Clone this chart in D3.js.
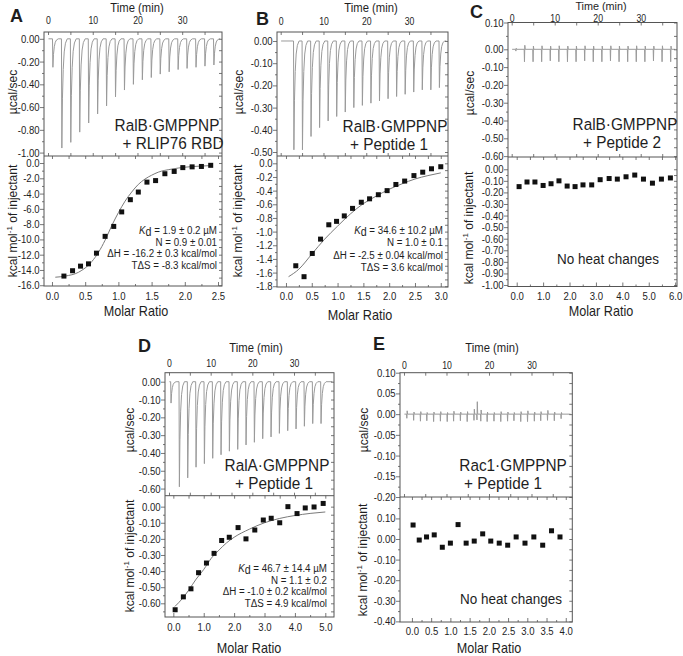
<!DOCTYPE html>
<html><head><meta charset="utf-8">
<script src="https://cdn.jsdelivr.net/npm/d3@7"></script>
<style>
body{margin:0;background:#fff}
text{font-family:"Liberation Sans",Arial,Helvetica,sans-serif;fill:#1e1e1e}
</style>
</head><body><script>
// ================= DATA =================
const timeTicks=[0,10,20,30];
const timeMinor=[5,15,25,35];

// ---- Panel A : RalB·GMPPNP + RLIP76 RBD ----
const aInjTime=[1,3,5,7,9,11,13,15,17,19,21,23,25,27,29,31,33,35,37];
const aInjPeak=[-0.25,-0.96,-0.91,-0.82,-0.74,-0.66,-0.59,-0.51,-0.45,-0.40,-0.36,-0.34,-0.31,-0.29,-0.27,-0.26,-0.25,-0.24,-0.23];
const aRatio=[0.18,0.31,0.43,0.55,0.67,0.80,0.93,1.05,1.18,1.30,1.43,1.56,1.70,1.84,1.97,2.11,2.25,2.39];
const aHeat=[-14.8,-14.1,-13.5,-13.2,-11.8,-9.6,-8.3,-6.4,-4.8,-3.8,-2.5,-2.3,-1.4,-1.1,-0.6,-0.5,-0.45,-0.3];
const aFitRatio=[0.05,0.2,0.4,0.6,0.7,0.8,0.9,1.0,1.1,1.2,1.3,1.4,1.5,1.6,1.8,2.0,2.2,2.4];
const aFitHeat=[-14.95,-14.8,-14.3,-12.9,-11.7,-10.1,-8.2,-6.5,-5.0,-3.8,-2.8,-2.1,-1.6,-1.2,-0.8,-0.55,-0.42,-0.33];
const aTopTicks=[0,-0.2,-0.4,-0.6,-0.8,-1.0];
const aTopMinor=[-0.1,-0.3,-0.5,-0.7,-0.9];
const aBotTicks=[0,-2,-4,-6,-8,-10,-12,-14,-16];
const aBotMinor=[-1,-3,-5,-7,-9,-11,-13,-15];
const aRatioTicks=[0,0.5,1.0,1.5,2.0,2.5];
const aRatioMinor=[0.25,0.75,1.25,1.75,2.25];
const aName=["RalB·GMPPNP","+ RLIP76 RBD"];
const aStats=["= 1.9 ± 0.2 µM","N = 0.9 ± 0.01","ΔH = -16.2 ± 0.3 kcal/mol","TΔS = -8.3 kcal/mol"];

// ---- Panel B : RalB·GMPPNP + Peptide 1 ----
const bInjTime=[3,5,7,9,11,13,15,17,19,21,23,25,27,29,31,33,35,37];
const bInjPeak=[-0.49,-0.49,-0.43,-0.39,-0.36,-0.34,-0.32,-0.30,-0.29,-0.28,-0.27,-0.26,-0.25,-0.24,-0.23,-0.22,-0.22,-0.21];
const bRatio=[0.19,0.35,0.51,0.67,0.83,0.98,1.13,1.29,1.46,1.62,1.79,1.96,2.13,2.30,2.48,2.65,2.82,3.00];
const bHeat=[-1.50,-1.66,-1.32,-1.11,-0.90,-0.85,-0.77,-0.66,-0.57,-0.52,-0.46,-0.40,-0.31,-0.26,-0.18,-0.13,-0.08,-0.05];
const bFitRatio=[0.05,0.25,0.5,0.75,1.0,1.25,1.5,1.75,2.0,2.25,2.5,2.75,3.0];
const bFitHeat=[-1.66,-1.55,-1.33,-1.11,-0.92,-0.74,-0.59,-0.48,-0.38,-0.30,-0.23,-0.18,-0.14];
const bTopTicks=[0,-0.1,-0.2,-0.3,-0.4,-0.5];
const bTopMinor=[-0.05,-0.15,-0.25,-0.35,-0.45];
const bBotTicks=[0,-0.2,-0.4,-0.6,-0.8,-1.0,-1.2,-1.4,-1.6,-1.8];
const bBotMinor=[-0.1,-0.3,-0.5,-0.7,-0.9,-1.1,-1.3,-1.5,-1.7];
const bRatioTicks=[0,0.5,1.0,1.5,2.0,2.5,3.0];
const bRatioMinor=[0.25,0.75,1.25,1.75,2.25,2.75];
const bName=["RalB·GMPPNP","+ Peptide 1"];
const bStats=["= 34.6 ± 10.2 µM","N = 1.0 ± 0.1","ΔH = -2.5 ± 0.04 kcal/mol","TΔS = 3.6 kcal/mol"];

// ---- Panel C : RalB·GMPPNP + Peptide 2 ----
const cInjTime=[0.9,2.9,4.9,6.9,8.9,10.9,12.9,14.9,16.9,18.9,20.9,22.9,24.9,26.9,28.9,30.9,32.9,34.9,36.9];
const cInjPeak=[-0.01,-0.07,-0.07,-0.07,-0.065,-0.07,-0.07,-0.07,-0.065,-0.07,-0.07,-0.065,-0.07,-0.07,-0.07,-0.07,-0.065,-0.07,-0.07];
const cInjUp=[0.004,0.015,0.012,0.013,0.012,0.013,0.012,0.012,0.013,0.012,0.012,0.013,0.012,0.012,0.013,0.012,0.012,0.013,0.012];
const cRatio=[0.09,0.39,0.69,1.00,1.30,1.60,1.91,2.21,2.51,2.84,3.16,3.50,3.81,4.14,4.47,4.80,5.14,5.48,5.82];
const cHeat=[-0.15,-0.11,-0.11,-0.14,-0.125,-0.10,-0.145,-0.15,-0.135,-0.135,-0.09,-0.08,-0.085,-0.065,-0.05,-0.085,-0.12,-0.085,-0.075];
const cTopTicks=[0.10,0,-0.1,-0.2,-0.3,-0.4,-0.5,-0.6];
const cTopMinor=[0.05,-0.05,-0.15,-0.25,-0.35,-0.45,-0.55];
const cBotTicks=[0,-0.1,-0.2,-0.3,-0.4,-0.5,-0.6,-0.7,-0.8,-0.9,-1.0];
const cBotMinor=[-0.05,-0.15,-0.25,-0.35,-0.45,-0.55,-0.65,-0.75,-0.85,-0.95];
const cRatioTicks=[0,1,2,3,4,5,6];
const cRatioMinor=[0.5,1.5,2.5,3.5,4.5,5.5];
const cName=["RalB·GMPPNP","+ Peptide 2"];

// ---- Panel D : RalA·GMPPNP + Peptide 1 ----
const dInjTime=[0.4,2.4,4.4,6.4,8.4,10.4,12.4,14.4,16.4,18.4,20.4,22.4,24.4,26.4,28.4,30.4,32.4,34.4,36.4];
const dInjPeak=[-0.12,-0.59,-0.54,-0.48,-0.46,-0.43,-0.41,-0.39,-0.38,-0.355,-0.34,-0.32,-0.31,-0.29,-0.275,-0.265,-0.25,-0.235,-0.235];
const dRatio=[0.06,0.33,0.58,0.83,1.09,1.34,1.59,1.84,2.13,2.39,2.68,2.96,3.22,3.50,3.77,4.07,4.34,4.63,4.93];
const dHeat=[-0.64,-0.56,-0.51,-0.41,-0.35,-0.29,-0.21,-0.19,-0.13,-0.20,-0.145,-0.083,-0.072,-0.10,0.00,-0.043,-0.008,-0.002,0.02];
const dFitRatio=[0.05,0.3,0.5,0.75,1.0,1.25,1.5,1.75,2.0,2.5,3.0,3.5,4.0,4.5,5.0];
const dFitHeat=[-0.62,-0.57,-0.52,-0.45,-0.39,-0.32,-0.27,-0.225,-0.19,-0.14,-0.10,-0.073,-0.055,-0.042,-0.033];
const dTopTicks=[0,-0.1,-0.2,-0.3,-0.4,-0.5,-0.6];
const dTopMinor=[-0.05,-0.15,-0.25,-0.35,-0.45,-0.55];
const dBotTicks=[0,-0.1,-0.2,-0.3,-0.4,-0.5,-0.6];
const dBotMinor=[-0.05,-0.15,-0.25,-0.35,-0.45,-0.55,-0.65];
const dRatioTicks=[0,1,2,3,4,5];
const dRatioMinor=[0.5,1.5,2.5,3.5,4.5];
const dName=["RalA·GMPPNP","+ Peptide 1"];
const dStats=["= 46.7 ± 14.4 µM","N = 1.1 ± 0.2","ΔH = -1.0 ± 0.2 kcal/mol","TΔS = 4.9 kcal/mol"];

// ---- Panel E : Rac1·GMPPNP + Peptide 1 ----
const eInjTime=[0.6,2.2,3.8,5.3,6.9,8.5,10.1,11.6,13.2,14.8,16.4,17.1,18.0,19.5,21.1,22.7,24.3,25.8,27.4,29.0,30.6,32.1,33.7,35.3,36.9];
const eInjPeak=[-0.010,-0.015,-0.017,-0.016,-0.018,-0.017,-0.018,-0.017,-0.016,-0.018,-0.015,-0.014,-0.017,-0.018,-0.017,-0.018,-0.017,-0.016,-0.018,-0.018,-0.017,-0.016,-0.015,-0.016,-0.011];
const eInjUp=[0.008,0.005,0.006,0.004,0.005,0.006,0.004,0.007,0.005,0.006,0.012,0.030,0.010,0.005,0.004,0.006,0.005,0.004,0.006,0.008,0.005,0.006,0.009,0.005,0.004];
const eRatio=[0.03,0.19,0.38,0.58,0.79,1.00,1.20,1.41,1.62,1.84,2.05,2.27,2.49,2.71,2.94,3.17,3.40,3.63,3.85];
const eHeat=[0.068,-0.005,0.01,0.02,-0.04,-0.02,0.07,-0.02,-0.01,0.025,-0.01,-0.02,-0.03,0.01,-0.02,0.01,-0.03,0.04,0.01];
const eTopTicks=[0.10,0.05,0,-0.05,-0.10,-0.15,-0.20];
const eTopMinor=[0.075,0.025,-0.025,-0.075,-0.125,-0.175];
const eBotTicks=[0.1,0,-0.1,-0.2,-0.3,-0.4];
const eBotMinor=[0.15,0.05,-0.05,-0.15,-0.25,-0.35];
const eRatioTicks=[0,0.5,1.0,1.5,2.0,2.5,3.0,3.5,4.0];
const eRatioMinor=[0.25,0.75,1.25,1.75,2.25,2.75,3.25,3.75];
const eName=["Rac1·GMPPNP","+ Peptide 1"];

const noHeat="No heat changes";

// ================= DRAWING =================
const svg=d3.select('body').append('svg').attr('width',683).attr('height',656);
const fmt=n=>v=>(v<-1e-9?'-':'')+Math.abs(v).toFixed(n);
const TRACE='#9a9a9a', FRAME='#555', FIT='#7a7a7a';

// peak shape (relative time offsets / fractions of the peak depth)
const PK_T=[0,0.09,0.22,0.4,0.62,0.9,1.3];
const PK_F=[0,1,0.55,0.28,0.12,0.04,0];
function thermo(times,peaks,ups,tStart,tEnd){
  const pts=[[tStart,0]];
  times.forEach((t,i)=>{
    if(ups){ pts.push([t,0],[t+0.07,peaks[i]],[t+0.15,ups[i]],[t+0.24,0]); }
    else PK_T.forEach((dt,j)=>pts.push([t+dt,peaks[i]*PK_F[j]]));
  });
  pts.push([tEnd,0]);
  return pts;
}

function axis(g,gen,scale,vals,size,pad,f,x,y,fs){
  const a=gen(scale).tickValues(vals).tickSizeInner(size).tickSizeOuter(0).tickPadding(pad).tickFormat(f||(()=>''));
  const s=g.append('g').attr('transform',`translate(${x},${y})`).call(a);
  s.select('.domain').remove();
  s.selectAll('line').attr('stroke',FRAME).attr('stroke-width',0.8);
  s.selectAll('text').attr('font-size',fs||11).attr('fill','#222').attr('transform','scale(0.87,1)');
  return s;
}
function label(g,x,y,s,size,anchor,sx,weight){
  return g.append('text').attr('transform',`translate(${x},${y}) scale(${sx},1)`)
    .attr('font-size',size).attr('text-anchor',anchor).attr('font-weight',weight||'normal').text(s);
}

function drawPanel(p){
  const F=p.frame, g=svg.append('g');
  const tx=d3.scaleLinear().domain(p.timeDom).range([F.x0,F.x1]);
  const ty=d3.scaleLinear().domain(p.topDom).range(p.topRange||[F.ym,F.yt]);
  const rx=d3.scaleLinear().domain(p.ratioDom).range([F.x0,F.x1]);
  const ry=d3.scaleLinear().domain(p.botDom).range([F.yb,F.ym]);

  // raw thermogram
  const pts=thermo(p.injTime,p.injPeak,p.injUp,0.1,p.timeDom[1]-0.4);
  g.append('path').attr('d',d3.line().x(d=>tx(d[0])).y(d=>ty(d[1]))(pts))
    .attr('fill','none').attr('stroke',TRACE).attr('stroke-width',1);

  // fit
  if(p.fitX){
    g.append('path').attr('d',d3.line().curve(d3.curveMonotoneX).x((d,i)=>rx(p.fitX[i])).y((d,i)=>ry(p.fitY[i]))(p.fitX))
      .attr('fill','none').attr('stroke',FIT).attr('stroke-width',1);
  }
  // points
  g.selectAll(null).data(p.ratio).join('rect')
    .attr('x',d=>rx(d)-2.5).attr('y',(d,i)=>ry(p.heat[i])-2.5)
    .attr('width',5).attr('height',5).attr('fill','#111');

  // frames
  g.append('rect').attr('x',F.x0).attr('y',F.yt).attr('width',F.x1-F.x0).attr('height',F.yb-F.yt)
    .attr('fill','none').attr('stroke',FRAME).attr('stroke-width',1);
  g.append('line').attr('x1',F.x0).attr('x2',F.x1).attr('y1',F.ym).attr('y2',F.ym).attr('stroke',FRAME);

  // top plot axes
  axis(g,d3.axisLeft,ty,p.topTicks,4,1,fmt(2),F.x0,0);
  axis(g,d3.axisLeft,ty,p.topMinor,2,0,null,F.x0,0);
  axis(g,d3.axisLeft,ty,p.topTicks.concat(p.topMinor),3,0,null,F.x1,0);
  axis(g,d3.axisTop,tx,timeTicks,0,p.tPad,d=>d,0,F.yt,10);
  axis(g,d3.axisTop,tx,timeTicks.concat(timeMinor),-3,0,null,0,F.yt);
  axis(g,d3.axisTop,tx,timeTicks.concat(timeMinor),3,0,null,0,F.ym);
  // bottom plot axes
  axis(g,d3.axisLeft,ry,p.botTicks,4,1,fmt(p.botDec),F.x0,0);
  axis(g,d3.axisLeft,ry,p.botMinor,2,0,null,F.x0,0);
  axis(g,d3.axisLeft,ry,p.botTicks.concat(p.botMinor),3,0,null,F.x1,0);
  axis(g,d3.axisBottom,rx,p.ratioTicks,0,p.rPad,fmt(1),0,F.yb);
  axis(g,d3.axisBottom,rx,p.ratioTicks,-4,0,null,0,F.yb);
  axis(g,d3.axisBottom,rx,p.ratioMinor,-2,0,null,0,F.yb);
  axis(g,d3.axisBottom,rx,p.ratioTicks.concat(p.ratioMinor),3,0,null,0,F.ym);

  // titles
  label(g,p.letter[0],p.letter[1],p.id,18,'start',1,'bold');
  label(g,p.timeTitle[0],p.timeTitle[1],'Time (min)',p.timeFs||12,'middle',0.94);
  label(g,p.ratioTitle[0],p.ratioTitle[1],'Molar Ratio',14.5,'middle',0.87);
  g.append('text').attr('transform',`translate(${p.uTitle[0]},${p.uTitle[1]}) rotate(-90)`)
    .attr('text-anchor','middle').attr('font-size',12).text('µcal/sec');
  const k=g.append('text').attr('transform',`translate(${p.kTitle[0]},${p.kTitle[1]}) rotate(-90)`)
    .attr('text-anchor','middle').attr('font-size',12);
  k.append('tspan').text('kcal mol');
  k.append('tspan').attr('font-size',8).attr('dy',-5).text('-1');
  k.append('tspan').attr('dy',5).text(' of injectant');

  // sample name (one text, two lines)
  const SX=0.93, n0=p.namePos[0], n1=p.namePos[1];
  const nt=g.append('text').attr('transform',`translate(${n0[0]},${n0[1]}) scale(${SX},1)`)
    .attr('font-size',16.5).attr('text-anchor','middle');
  nt.append('tspan').attr('x',0).attr('y',0).text(p.name[0]);
  nt.append('tspan').attr('x',(n1[0]-n0[0])/SX).attr('y',n1[1]-n0[1]).text(p.name[1]);

  // stats (one text, four lines)
  if(p.stats){
    const t=g.append('text').attr('transform',`translate(${p.statPos[0]},${p.statPos[1]}) scale(0.85,1)`)
      .attr('text-anchor','end').attr('font-size',11.5);
    p.stats.forEach((s,i)=>{
      if(i===0){
        t.append('tspan').attr('x',0).attr('y',0).attr('font-style','italic').text('K');
        t.append('tspan').attr('font-size',12.5).attr('dy',1.5).text('d');
        t.append('tspan').attr('dy',-1.5).text(' '+s);
      } else t.append('tspan').attr('x',0).attr('y',i*p.statDy).text(s);
    });
  }
  if(p.noHeat) label(g,p.noHeat[0],p.noHeat[1],noHeat,15.5,'middle',0.87);
}

const panels=[
 {id:'A',frame:{x0:44,x1:222,yt:32,ym:156,yb:286},timeDom:[-0.9,38.9],topDom:[-1.03,0.06],botDom:[-16.1,0.92],ratioDom:[-0.12,2.56],
  injTime:aInjTime,injPeak:aInjPeak,ratio:aRatio,heat:aHeat,fitX:aFitRatio,fitY:aFitHeat,
  topTicks:aTopTicks,topMinor:aTopMinor,botTicks:aBotTicks,botMinor:aBotMinor,botDec:1,ratioTicks:aRatioTicks,ratioMinor:aRatioMinor,
  tPad:8,rPad:6,letter:[10,22],timeTitle:[137,11.5],ratioTitle:[136,316],uTitle:[17,92],kTitle:[17,221],
  name:aName,namePos:[[167,131],[173,149]],stats:aStats,statPos:[217,234],statDy:11.7},
 {id:'B',frame:{x0:277,x1:448,yt:32,ym:156,yb:287},timeDom:[-0.86,39.1],topDom:[-0.518,0.0405],botDom:[-1.811,0.107],ratioDom:[-0.174,3.14],
  injTime:bInjTime,injPeak:bInjPeak,ratio:bRatio,heat:bHeat,fitX:bFitRatio,fitY:bFitHeat,
  topTicks:bTopTicks,topMinor:bTopMinor,botTicks:bBotTicks,botMinor:bBotMinor,botDec:1,ratioTicks:bRatioTicks,ratioMinor:bRatioMinor,
  tPad:7,rPad:5,letter:[256,25],timeTitle:[371,12],ratioTitle:[360,320],uTitle:[243,92],kTitle:[242,221],
  name:bName,namePos:[[395,132],[389,150]],stats:bStats,statPos:[443,234],statDy:12.4},
 {id:'C',frame:{x0:508,x1:677,yt:22.5,ym:157,yb:286.5},timeDom:[-0.86,38.44],topDom:[-0.605,0,0.10],topRange:[157,49.3,22.5],botDom:[-1.013,0.106],ratioDom:[-0.33,6.07],
  injTime:cInjTime,injPeak:cInjPeak,injUp:cInjUp,ratio:cRatio,heat:cHeat,
  topTicks:cTopTicks,topMinor:cTopMinor,botTicks:cBotTicks,botMinor:cBotMinor,botDec:2,ratioTicks:cRatioTicks,ratioMinor:cRatioMinor,
  tPad:0.5,rPad:6,letter:[470,18],timeTitle:[601,10.4],timeFs:11.5,ratioTitle:[601,316],uTitle:[474,93],kTitle:[473,228],
  name:cName,namePos:[[625,130],[622,148]],noHeat:[608,264]},
 {id:'D',frame:{x0:165,x1:334,yt:372.7,ym:495.7,yb:617},timeDom:[-0.96,39.6],topDom:[-0.640,0.0506],botDom:[-0.685,0.068],ratioDom:[-0.274,5.286],
  injTime:dInjTime,injPeak:dInjPeak,ratio:dRatio,heat:dHeat,fitX:dFitRatio,fitY:dFitHeat,
  topTicks:dTopTicks,topMinor:dTopMinor,botTicks:dBotTicks,botMinor:dBotMinor,botDec:2,ratioTicks:dRatioTicks,ratioMinor:dRatioMinor,
  tPad:6,rPad:6,letter:[138,352],timeTitle:[256,352],ratioTitle:[249,653],uTitle:[134,430],kTitle:[134,556],
  name:dName,namePos:[[277,471],[274,489]],stats:dStats,statPos:[327,572],statDy:11.7},
 {id:'E',frame:{x0:400,x1:572.3,yt:372.7,ym:497,yb:622},timeDom:[-0.94,39.6],topDom:[-0.2,0.1],botDom:[-0.403,0.204],ratioDom:[-0.31,4.17],
  injTime:eInjTime,injPeak:eInjPeak,injUp:eInjUp,ratio:eRatio,heat:eHeat,
  topTicks:eTopTicks,topMinor:eTopMinor,botTicks:eBotTicks,botMinor:eBotMinor,botDec:2,ratioTicks:eRatioTicks,ratioMinor:eRatioMinor,
  tPad:4,rPad:5,letter:[373,350],timeTitle:[492,352],ratioTitle:[489,653],uTitle:[368,430],kTitle:[367,560],
  name:eName,namePos:[[513,471],[503,489]],noHeat:[511,604]}
];
panels.forEach(drawPanel);
</script></body></html>
